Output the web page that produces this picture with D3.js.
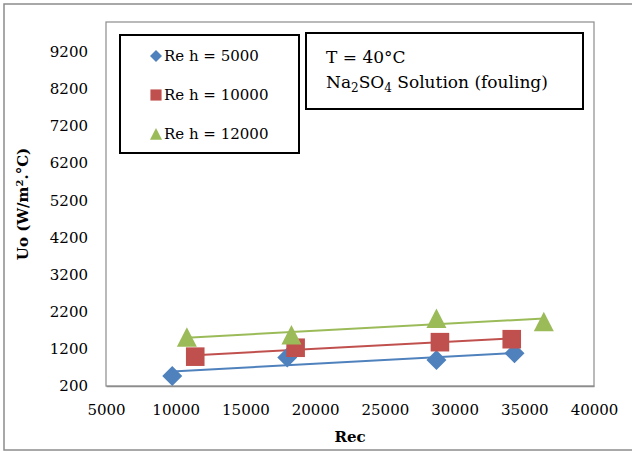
<!DOCTYPE html>
<html>
<head>
<meta charset="utf-8">
<script src="https://cdn.jsdelivr.net/npm/d3@7"></script>
<style>
  html, body { margin: 0; padding: 0; background: #fff; }
  svg { display: block; }
  text { font-family: "DejaVu Serif", "Liberation Serif", serif; fill: #000; }
</style>
</head>
<body>
<svg id="chart" width="632" height="452"></svg>
<script>
// Overall heat transfer coefficient vs cold-side Reynolds number
const xTicks = [5000, 10000, 15000, 20000, 25000, 30000, 35000, 40000];
const yTicks = [200, 1200, 2200, 3200, 4200, 5200, 6200, 7200, 8200, 9200];

const seriesNames = ["Re h = 5000", "Re h = 10000", "Re h = 12000"];
const rec5000 = [9750, 18000, 28700, 34300];
const uo5000 = [470, 970, 900, 1080];
const rec10000 = [11400, 18600, 28950, 34100];
const uo10000 = [990, 1230, 1380, 1460];
const rec12000 = [10800, 18300, 28700, 36400];
const uo12000 = [1510, 1570, 2020, 1930];

const colors = ["#4F81BD", "#C0504D", "#9BBB59"];
const shapes = ["diamond", "square", "triangle"];

const series = [
  { name: seriesNames[0], xs: rec5000, ys: uo5000 },
  { name: seriesNames[1], xs: rec10000, ys: uo10000 },
  { name: seriesNames[2], xs: rec12000, ys: uo12000 }
].map((s, i) => ({ ...s, color: colors[i], shape: shapes[i] }));

const svg = d3.select("#chart");
const plot = { left: 106, right: 594, top: 22, bottom: 386 };

const x = d3.scaleLinear().domain([5000, 40000]).range([plot.left, plot.right]);
const y = d3.scaleLinear().domain([200, 10000]).range([plot.bottom, plot.top]);

// chart border
svg.append("rect")
  .attr("x", 4).attr("y", 4).attr("width", 660).attr("height", 446)
  .attr("fill", "none").attr("stroke", "#8c8c8c").attr("stroke-width", 1.5);

// plot area frame
svg.append("rect")
  .attr("x", plot.left).attr("y", plot.top)
  .attr("width", plot.right - plot.left).attr("height", plot.bottom - plot.top)
  .attr("fill", "none").attr("stroke", "#8c8c8c").attr("stroke-width", 1.2);

// axes
const yAxis = svg.append("g")
  .attr("transform", `translate(${plot.left},0)`)
  .call(d3.axisLeft(y).tickValues(yTicks).tickSize(0).tickPadding(18).tickFormat(d3.format("d")));
yAxis.select(".domain").remove();
yAxis.selectAll("text").style("font-size", "15px").style("font-family", "DejaVu Serif");

const xAxis = svg.append("g")
  .attr("transform", `translate(0,${plot.bottom})`)
  .call(d3.axisBottom(x).tickValues(xTicks).tickSize(0).tickPadding(18).tickFormat(d3.format("d")));
xAxis.select(".domain").attr("stroke", "#8c8c8c").attr("stroke-width", 1.5);
xAxis.selectAll("text").style("font-size", "15px").style("font-family", "DejaVu Serif");

// axis titles
svg.append("text")
  .attr("x", (plot.left + plot.right) / 2).attr("y", 442)
  .attr("text-anchor", "middle")
  .style("font-size", "15px").style("font-weight", "bold")
  .text("Rec");

const yTitle = svg.append("text")
  .attr("transform", `translate(28,${(plot.top + plot.bottom) / 2}) rotate(-90)`)
  .attr("text-anchor", "middle")
  .style("font-size", "15px").style("font-weight", "bold");
yTitle.append("tspan").text("Uo (W/m");
yTitle.append("tspan").attr("dy", -5).style("font-size", "10px").text("2");
yTitle.append("tspan").attr("dy", 5).text(".°C)");

// least-squares trend line
function linearFit(xs, ys) {
  const mx = d3.mean(xs), my = d3.mean(ys);
  const sxy = d3.sum(xs, (v, i) => (v - mx) * (ys[i] - my));
  const sxx = d3.sum(xs, v => (v - mx) * (v - mx));
  const slope = sxy / sxx;
  return v => my + slope * (v - mx);
}

function markerPath(shape, r) {
  const p = d3.path();
  if (shape === "diamond") {
    p.moveTo(0, -r); p.lineTo(r, 0); p.lineTo(0, r); p.lineTo(-r, 0); p.closePath();
  } else if (shape === "square") {
    const h = r * 0.93;
    p.rect(-h, -h, 2 * h, 2 * h);
  } else {
    p.moveTo(0, -r); p.lineTo(r, r * 0.95); p.lineTo(-r, r * 0.95); p.closePath();
  }
  return p.toString();
}

const line = d3.line().x(d => x(d[0])).y(d => y(d[1]));

series.forEach(s => {
  const fit = linearFit(s.xs, s.ys);
  const ext = d3.extent(s.xs);
  svg.append("path")
    .attr("d", line(ext.map(v => [v, fit(v)])))
    .attr("fill", "none").attr("stroke", s.color).attr("stroke-width", 2);
});

series.forEach(s => {
  svg.append("g").selectAll("path")
    .data(s.xs.map((v, i) => [v, s.ys[i]]))
    .join("path")
    .attr("transform", d => `translate(${x(d[0])},${y(d[1])})`)
    .attr("d", markerPath(s.shape, 10))
    .attr("fill", s.color);
});

// legend
svg.append("rect")
  .attr("x", 120).attr("y", 35).attr("width", 179).attr("height", 118)
  .attr("fill", "#fff").attr("stroke", "#000").attr("stroke-width", 2);
series.forEach((s, i) => {
  const cy = 56 + i * 39;
  svg.append("path")
    .attr("transform", `translate(156,${cy})`)
    .attr("d", markerPath(s.shape, 6))
    .attr("fill", s.color);
  svg.append("text")
    .attr("x", 164).attr("y", cy + 5)
    .style("font-size", "15px")
    .text(s.name);
});

// condition note
svg.append("rect")
  .attr("x", 306).attr("y", 33).attr("width", 277).attr("height", 76)
  .attr("fill", "#fff").attr("stroke", "#000").attr("stroke-width", 2);
svg.append("text")
  .attr("x", 326).attr("y", 63)
  .style("font-size", "17px")
  .text("T = 40°C");
const note = svg.append("text")
  .attr("x", 326).attr("y", 88)
  .style("font-size", "17px");
note.append("tspan").text("Na");
note.append("tspan").attr("dy", 4).style("font-size", "12px").text("2");
note.append("tspan").attr("dy", -4).text("SO");
note.append("tspan").attr("dy", 4).style("font-size", "12px").text("4");
note.append("tspan").attr("dy", -4).text(" Solution (fouling)");
</script>
</body>
</html>
